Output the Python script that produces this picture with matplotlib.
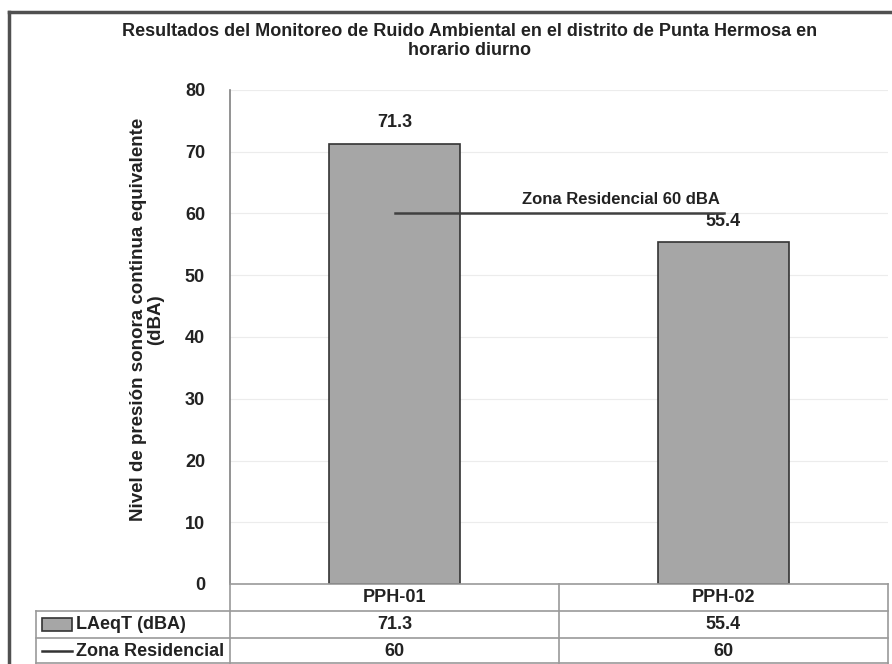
import numpy as np
import matplotlib
matplotlib.use("Agg")
from matplotlib import pyplot as plt
from matplotlib.patches import Rectangle
from matplotlib.lines import Line2D

# Datos del monitoreo
estaciones = ["PPH-01", "PPH-02"]
laeqt = [71.3, 55.4]
zona_residencial = [60, 60]
etiquetas_laeqt = ["71.3", "55.4"]
etiquetas_zona = ["60", "60"]
yticks = [0, 10, 20, 30, 40, 50, 60, 70, 80]

plt.rcParams['font.family'] = ['Liberation Sans', 'DejaVu Sans']

W, H = 892, 664
fig = plt.figure(figsize=(W / 100, H / 100), dpi=100)

def px(x0, y0, x1, y1):
    # rectangulo en pixeles -> coordenadas de figura
    return [x0 / W, 1 - y1 / H, (x1 - x0) / W, (y1 - y0) / H]

ax = fig.add_axes(px(230, 90, 888, 584))

x = np.arange(len(estaciones))
bars = ax.bar(x, laeqt, width=0.40, color="#a6a6a6", edgecolor="#333333", linewidth=1.2, zorder=3)
ax.plot(x, zona_residencial, color="#404040", linewidth=1.8, zorder=4)

for xi, v, t in zip(x, laeqt, etiquetas_laeqt):
    ax.text(xi, v + 2.0, t, ha="center", va="bottom", fontsize=13, fontweight="bold", color="#222222")
ax.text(x[1] - 0.01, 61.0, "Zona Residencial 60 dBA", ha="right", va="bottom",
        fontsize=12, fontweight="bold", color="#222222")

ax.set_xlim(-0.5, 1.5)
ax.set_ylim(0, 80)
ax.set_yticks(yticks)
ax.set_yticklabels([str(t) for t in yticks], fontsize=13, fontweight="bold", color="#222222")
ax.set_xticks([])
ax.tick_params(axis="y", length=0, pad=18)
ax.yaxis.grid(True, color="#ececec", linewidth=0.8, zorder=0)
for s in ["top", "right", "bottom"]:
    ax.spines[s].set_visible(False)
ax.spines["left"].set_color("#808080")
ax.spines["left"].set_linewidth(1.2)

ax.set_ylabel("Nivel de presión sonora continua equivalente\n(dBA)", fontsize=13.5,
              fontweight="bold", color="#222222", linespacing=1.0)
ax.yaxis.set_label_coords(-0.10, 0.535)

fig.text(470 / W, 1 - 41 / H,
         "Resultados del Monitoreo de Ruido Ambiental en el distrito de Punta Hermosa en\nhorario diurno",
         ha="center", va="center", fontsize=13, fontweight="bold", color="#222222", linespacing=1.2)

# Marco exterior
fig.add_artist(Line2D([9 / W, 892 / W], [1 - 12 / H, 1 - 12 / H], color="#505050", linewidth=2.5))
fig.add_artist(Line2D([9 / W, 9 / W], [1 - 12 / H, 0], color="#505050", linewidth=2.5))

# Tabla de datos
gc = "#9a9a9a"
rows_y = [584, 611, 638, 664]
col_x = [36, 230, 559, 888]

def hline(x0, x1, y):
    fig.add_artist(Line2D([x0 / W, x1 / W], [1 - y / H, 1 - y / H], color=gc, linewidth=1.2))

def vline(xp, y0, y1):
    fig.add_artist(Line2D([xp / W, xp / W], [1 - y0 / H, 1 - y1 / H], color=gc, linewidth=1.2))

hline(230, 888, rows_y[0])
hline(36, 888, rows_y[1])
hline(36, 888, rows_y[2])
hline(36, 888, rows_y[3] - 1)
vline(36, rows_y[1], rows_y[3])
vline(230, rows_y[0], rows_y[3])
vline(559, rows_y[0], rows_y[3])
vline(888, rows_y[0], rows_y[3])

fs_tab = 13
for i, est in enumerate(estaciones):
    cx = (col_x[i + 1] + col_x[i + 2]) / 2 / W
    fig.text(cx, 1 - (rows_y[0] + rows_y[1]) / 2 / H, est, ha="center", va="center",
             fontsize=fs_tab, fontweight="bold", color="#222222")
    fig.text(cx, 1 - (rows_y[1] + rows_y[2]) / 2 / H, etiquetas_laeqt[i], ha="center", va="center",
             fontsize=fs_tab, fontweight="bold", color="#222222")
    fig.text(cx, 1 - (rows_y[2] + rows_y[3]) / 2 / H, etiquetas_zona[i], ha="center", va="center",
             fontsize=fs_tab, fontweight="bold", color="#222222")

# Leyenda dentro de la tabla
fig.add_artist(Rectangle((42 / W, 1 - 631 / H), 30 / W, 13 / H, facecolor="#a6a6a6",
                         edgecolor="#333333", linewidth=1.2))
fig.text(76 / W, 1 - (rows_y[1] + rows_y[2]) / 2 / H, "LAeqT (dBA)", ha="left", va="center",
         fontsize=fs_tab, fontweight="bold", color="#222222")
fig.add_artist(Line2D([42 / W, 72 / W], [1 - 651 / H, 1 - 651 / H], color="#333333", linewidth=1.8))
fig.text(76 / W, 1 - (rows_y[2] + rows_y[3]) / 2 / H, "Zona Residencial", ha="left", va="center",
         fontsize=fs_tab, fontweight="bold", color="#222222")

fig.savefig("out.png", dpi=100)
